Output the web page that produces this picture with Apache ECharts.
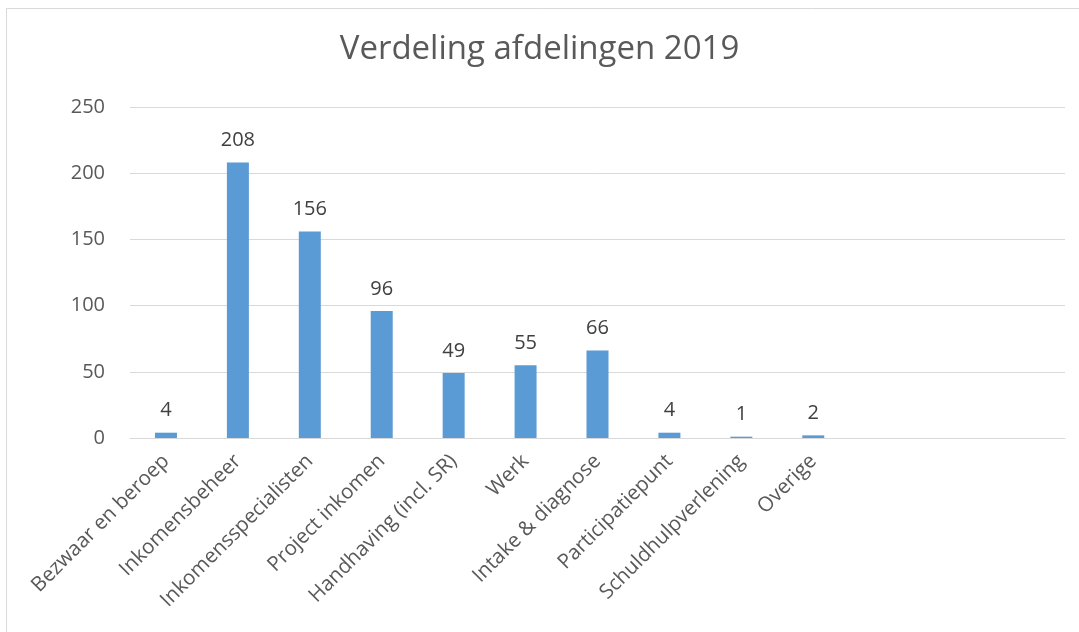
<!DOCTYPE html>
<html>
<head>
<meta charset="utf-8">
<script src="https://cdn.jsdelivr.net/npm/echarts@6/dist/echarts.min.js"></script>
<style>
html,body{margin:0;padding:0;background:#fff;}
#c{width:1079px;height:632px;}
</style>
</head>
<body>
<div id="c"></div>
<script>
var categories = ['Bezwaar en beroep','Inkomensbeheer','Inkomensspecialisten','Project inkomen','Handhaving (incl. SR)','Werk','Intake & diagnose','Participatiepunt','Schuldhulpverlening','Overige','','',''];
var values = [4, 208, 156, 96, 49, 55, 66, 4, 1, 2, null, null, null];
var yTicks = {min: 0, max: 250, interval: 50};

var chart = echarts.init(document.getElementById('c'), null, {renderer: 'canvas'});
chart.setOption({
  animation: false,
  backgroundColor: '#fff',
  title: {
    text: 'Verdeling afdelingen 2019',
    left: 'center',
    top: 28,
    textStyle: {fontFamily: 'Open Sans', fontSize: 33, fontWeight: 'normal', color: '#595959'}
  },
  graphic: [{
    type: 'rect',
    shape: {x: 6.5, y: 8.5, width: 1200, height: 800},
    style: {fill: 'none', stroke: '#d9d9d9', lineWidth: 1},
    silent: true
  }],
  grid: {left: 130, right: 14, top: 107, bottom: 194, containLabel: false},
  xAxis: {
    type: 'category',
    data: categories,
    axisLine: {lineStyle: {color: '#d9d9d9', width: 1}},
    axisTick: {show: false},
    axisLabel: {
      interval: 0,
      rotate: 45,
      margin: 20,
      fontFamily: 'Open Sans',
      fontSize: 20.5,
      color: '#595959'
    }
  },
  yAxis: {
    type: 'value',
    min: yTicks.min,
    max: yTicks.max,
    interval: yTicks.interval,
    axisLine: {show: false},
    axisTick: {show: false},
    splitLine: {lineStyle: {color: '#d9d9d9', width: 1}},
    axisLabel: {
      margin: 25,
      fontFamily: 'Open Sans',
      fontSize: 20,
      color: '#595959'
    }
  },
  series: [{
    type: 'bar',
    data: values,
    barWidth: 22,
    itemStyle: {color: '#5b9bd5'},
    label: {
      show: true,
      position: 'top',
      distance: 12,
      fontFamily: 'Open Sans',
      fontSize: 20,
      color: '#404040'
    }
  }]
});
</script>
</body>
</html>
